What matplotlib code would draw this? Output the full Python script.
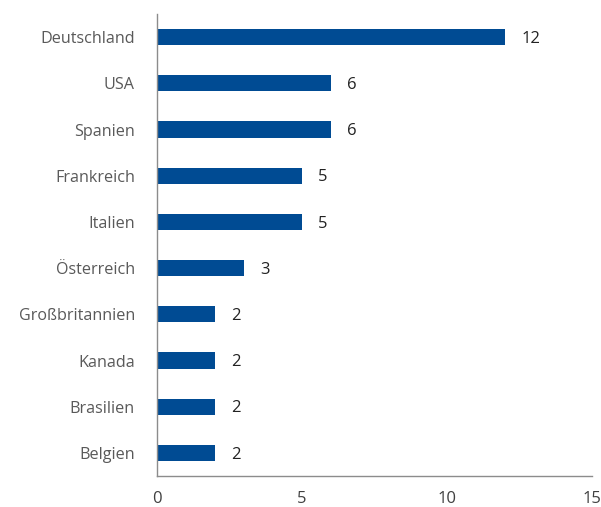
import matplotlib
matplotlib.use('Agg')
import matplotlib.pyplot as plt

countries = ['Deutschland', 'USA', 'Spanien', 'Frankreich', 'Italien',
             'Österreich', 'Großbritannien', 'Kanada', 'Brasilien', 'Belgien']
values = [12, 6, 6, 5, 5, 3, 2, 2, 2, 2]
xticks = [0, 5, 10, 15]

plt.rcParams['font.family'] = ['Open Sans', 'DejaVu Sans']

fig = plt.figure(figsize=(6.01, 5.07), dpi=100)
ax = fig.add_axes([0.2612, 0.0611, 0.724, 0.9113])

pos = list(range(len(countries)))
ax.barh(pos, values, height=0.35, color='#004b93')
for p, v in zip(pos, values):
    ax.annotate(str(v), (v, p), xytext=(11.5, -1.2), textcoords='offset points',
                va='center', ha='left', fontsize=12, color='#222222')

ax.set_yticks(pos)
ax.set_yticklabels(countries, fontsize=11.6, color='#595959')
ax.set_ylim(len(countries) - 0.5, -0.5)
ax.set_xlim(0, 15)
ax.set_xticks(xticks)
ax.set_xticklabels([str(t) for t in xticks], fontsize=12, color='#404040')
ax.tick_params(length=0)
ax.tick_params(axis='x', pad=10.5)
ax.tick_params(axis='y', pad=16)
for s in ['top', 'right']:
    ax.spines[s].set_visible(False)
for s in ['left', 'bottom']:
    ax.spines[s].set_color('#8c8c8c')
    ax.spines[s].set_linewidth(1.0)

fig.savefig('out.png', dpi=100)
